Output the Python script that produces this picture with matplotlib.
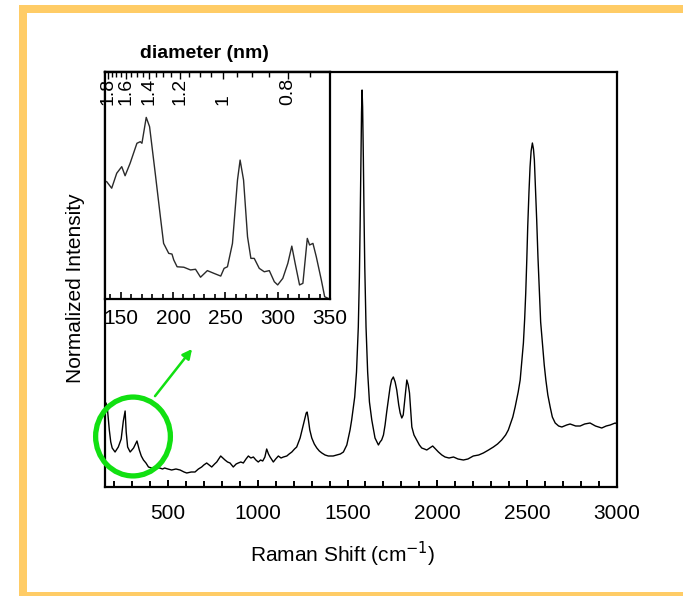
import numpy as np
import matplotlib
matplotlib.use("Agg")
import matplotlib.pyplot as plt
from matplotlib.patches import Rectangle, Ellipse
from matplotlib.ticker import MultipleLocator, FixedLocator, NullFormatter
import matplotlib.transforms as mtransforms

plt.rcParams["font.family"] = ["Liberation Sans", "DejaVu Sans"]

# main spectrum (intensity in arbitrary units)
MAIN_SHIFT = [150, 156, 163, 174, 182, 190, 206, 224, 240, 252, 262, 268, 276, 290,
              309, 320, 328, 334, 341, 352, 364, 378, 392, 410, 426, 440, 455, 470,
              482, 500, 521, 545, 568, 590, 605, 630, 651, 670, 688, 700, 716, 730,
              744, 760, 772, 794, 806, 818, 832, 846, 864, 880, 892, 906, 920, 935,
              948, 962, 976, 990, 1003, 1016, 1028, 1040, 1050, 1060, 1069, 1087,
              1100, 1115, 1130, 1143, 1162, 1175, 1190, 1205, 1217, 1236, 1251, 1264,
              1270, 1275, 1280, 1290, 1301, 1315, 1329, 1343, 1357, 1375, 1393, 1410,
              1420, 1440, 1460, 1477, 1496, 1514, 1523, 1540, 1550, 1560, 1566, 1570,
              1574, 1578, 1581, 1584, 1588, 1592, 1596, 1603, 1612, 1622, 1635, 1653,
              1672, 1681, 1690, 1700, 1709, 1718, 1728, 1737, 1745, 1755, 1765, 1774,
              1785, 1793, 1802, 1810, 1820, 1830, 1838, 1845, 1852, 1858, 1870, 1885,
              1900, 1913, 1928, 1941, 1958, 1974, 1990, 2006, 2025, 2043, 2065, 2090,
              2115, 2145, 2170, 2200, 2230, 2256, 2285, 2312, 2335, 2358, 2380, 2395,
              2420, 2433, 2450, 2461, 2470, 2479, 2486, 2492, 2498, 2503, 2510, 2516,
              2522, 2529, 2535, 2540, 2546, 2553, 2560, 2568, 2575, 2585, 2595, 2604,
              2615, 2628, 2640, 2656, 2675, 2693, 2720, 2739, 2770, 2795, 2820, 2850,
              2880, 2915, 2940, 2962, 2990, 3000]
MAIN_INT = [82, 84, 79, 57, 45, 39, 35, 40, 48, 66, 76, 55, 40, 35,
            39, 43, 46, 42, 37, 31, 27, 24, 20, 19, 18, 19, 19, 18,
            19, 18, 17, 18, 17, 15, 14, 15, 15, 18, 20, 22, 24, 22,
            20, 23, 25, 31, 29, 27, 25, 24, 20, 23, 24, 25, 24, 28,
            31, 29, 30, 27, 25, 27, 26, 30, 38, 33, 30, 25,
            28, 31, 29, 30, 31, 33, 35, 38, 40, 49, 60, 70,
            74, 75, 70, 57, 49, 43, 39, 36, 34, 32, 31, 31,
            31, 32, 33, 35, 42, 57, 67, 90, 115, 160, 210, 260,
            320, 375, 397, 380, 330, 270, 220, 160, 115, 85, 67, 49,
            42, 45, 47, 52, 62, 75, 88, 100, 107, 110, 105, 97,
            82, 74, 69, 72, 90, 107, 102, 94, 75, 60, 52, 47,
            42, 39, 38, 37, 39, 41, 38, 35, 32, 30, 29, 30,
            28, 27, 28, 31, 32, 34, 37, 40, 43, 47, 52, 57,
            70, 80, 95, 107, 125, 144, 168, 194, 228, 260, 295, 320,
            336, 344, 338, 327, 300, 267, 230, 194, 165, 144, 122, 107,
            92, 80, 70, 64, 61, 60, 62, 63, 61, 61, 63, 64,
            61, 59, 61, 62, 64, 63]

# inset: radial breathing mode region
INSET_SHIFT = [136.6, 141.4, 146.2, 151.0, 154.2, 159.0, 165.5, 168.7, 170.3, 174.4,
               177.6, 183.0, 187.9, 191.0, 195.9, 199.0, 200.7, 203.9, 210.3, 216.7,
               221.5, 226.3, 232.8, 239.1, 245.6, 248.8, 252.0, 256.8, 261.6, 264.1,
               267.4, 271.2, 274.4, 277.6, 282.4, 287.2, 292.0, 296.8, 300.0, 304.9,
               309.7, 313.5, 316.7, 320.9, 324.1, 328.3, 330.5, 333.7, 336.9, 341.7,
               344.9, 348.1]
INSET_INT = [0.517, 0.488, 0.554, 0.583, 0.543, 0.598, 0.686, 0.693, 0.686, 0.800,
             0.759, 0.554, 0.363, 0.245, 0.201, 0.198, 0.172, 0.142, 0.140, 0.128,
             0.131, 0.096, 0.125, 0.113, 0.101, 0.135, 0.142, 0.245, 0.524, 0.612,
             0.524, 0.274, 0.179, 0.179, 0.135, 0.120, 0.125, 0.076, 0.062, 0.091,
             0.157, 0.233, 0.157, 0.062, 0.069, 0.267, 0.238, 0.245, 0.186, 0.084,
             0.010, 0.003]

DIAM_TICKS = [1.8, 1.6, 1.4, 1.2, 1.0, 0.8]
DIAM_LABELS = ["1.8", "1.6", "1.4", "1.2", "1", "0.8"]
RBM_CONST = 248.0  # omega = 248 / d

ORANGE = "#ffcc66"
GREEN = "#11e011"
W, H = 683, 596


def w2d(w):
    w = np.asarray(w, dtype=float)
    with np.errstate(divide="ignore"):
        return RBM_CONST / w


fig = plt.figure(figsize=(W / 100, H / 100), dpi=100)

# orange frame
fig.add_artist(Rectangle((19 / W, 0), 8 / W, 1 - 5 / H, transform=fig.transFigure,
                         color=ORANGE, lw=0))
fig.add_artist(Rectangle((19 / W, 1 - 13 / H), 1, 8 / H, transform=fig.transFigure,
                         color=ORANGE, lw=0))
fig.add_artist(Rectangle((19 / W, 0), 1, 4 / H, transform=fig.transFigure,
                         color=ORANGE, lw=0))

# main axes
ax = fig.add_axes([105 / W, 1 - 487 / H, 512 / W, 415 / H])
ax.plot(MAIN_SHIFT, MAIN_INT, color="black", lw=1.0)
ax.set_xlim(150, 3000)
ax.set_ylim(0, 415)
ax.xaxis.set_major_locator(FixedLocator([500, 1000, 1500, 2000, 2500, 3000]))
ax.xaxis.set_minor_locator(MultipleLocator(100))
ax.tick_params(axis="x", which="both", direction="in", labelsize=15, pad=12, width=1.4)
ax.tick_params(axis="x", which="major", length=5)
ax.tick_params(axis="x", which="minor", length=4)
ax.set_yticks([])
for s in ax.spines.values():
    s.set_linewidth(1.6)
ax.set_xlabel("Raman Shift (cm$^{-1}$)", fontsize=15)
ax.xaxis.set_label_coords(0.465, -0.128)
ax.set_ylabel("Normalized Intensity", fontsize=15)
ax.yaxis.set_label_coords(-0.039, 0.48)

# green circle and arrow
ax.add_patch(Ellipse((0.0547, 0.1217), 0.146, 0.19, transform=ax.transAxes,
                     fill=False, edgecolor=GREEN, lw=3.8, clip_on=False, zorder=5))
ax.annotate("", xy=(0.170, 0.3325), xytext=(0.0977, 0.219), xycoords="axes fraction",
            arrowprops=dict(arrowstyle="-|>", color=GREEN, lw=1.8, mutation_scale=14,
                            shrinkA=0, shrinkB=0))

# inset
ax_in = fig.add_axes([105 / W, 1 - 299 / H, 225 / W, 227 / H])
ax_in.plot(INSET_SHIFT, INSET_INT, color="#2a2a2a", lw=1.0)
ax_in.set_xlim(135, 350)
ax_in.set_ylim(0, 1)
ax_in.set_yticks([])
ax_in.xaxis.set_major_locator(MultipleLocator(50))
ax_in.xaxis.set_minor_locator(MultipleLocator(10))
ax_in.tick_params(axis="x", which="both", direction="in", labelsize=15, pad=7, width=1.2)
ax_in.tick_params(axis="x", which="major", length=5)
ax_in.tick_params(axis="x", which="minor", length=3.5)
for s in ax_in.spines.values():
    s.set_linewidth(1.6)

sec = ax_in.secondary_xaxis("top", functions=(w2d, w2d))
sec.xaxis.set_major_locator(FixedLocator(DIAM_TICKS))
sec.xaxis.set_minor_locator(MultipleLocator(0.05))
sec.xaxis.set_major_formatter(NullFormatter())
sec.tick_params(axis="x", which="both", direction="in", width=1.0)
sec.tick_params(axis="x", which="major", length=5)
sec.tick_params(axis="x", which="minor", length=3.5)
sec.spines["top"].set_linewidth(1.6)

trans = mtransforms.blended_transform_factory(ax_in.transData, ax_in.transAxes)
for d, lab in zip(DIAM_TICKS, DIAM_LABELS):
    ax_in.text(RBM_CONST / d, 0.855, lab, transform=trans, rotation=90,
               ha="center", va="bottom", fontsize=14)

fig.text(204 / W, 1 - 53 / H, "diameter (nm)", fontsize=14, fontweight="bold",
         ha="center", va="center")

fig.savefig("out.png", dpi=100)
